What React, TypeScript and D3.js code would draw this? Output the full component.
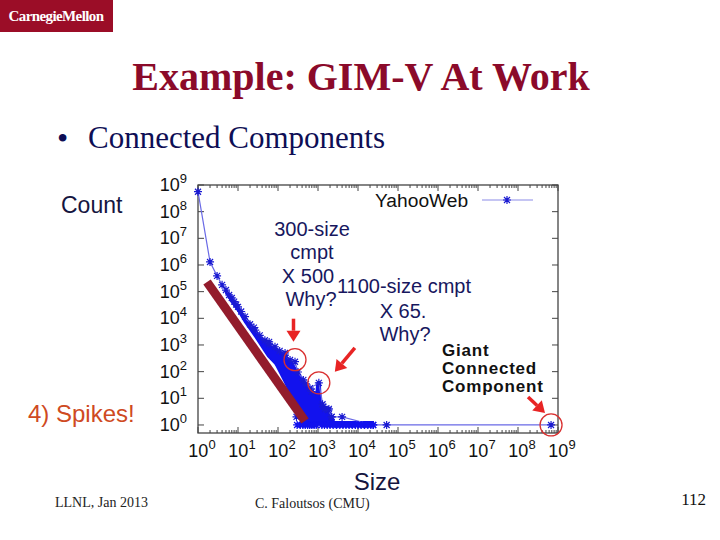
import React, { useEffect, useRef } from 'react'
import * as d3 from 'd3'

// YahooWeb: connected component size vs count (linespoints series)
const chainSize = [1, 2, 3, 4, 5, 6, 7, 8, 9, 10, 12, 15, 20, 27, 35, 47, 60, 84, 110, 150, 200, 266, 316, 430, 630, 1050, 1350, 1820, 2180, 4000, 24000, 52000, 670000000]
const chainCount = [5.6e8, 1.3e6, 3.9e5, 1.8e5, 1.15e5, 7.5e4, 5.8e4, 4.2e4, 3.3e4, 2.7e4, 1.8e4, 1.15e4, 6e3, 3.6e3, 2.3e3, 1.5e3, 1.1e3, 860, 600, 420, 275, 236, 97, 49, 24, 38, 4.9, 3.6, 2, 2, 1, 1, 1]

// dense scatter region, read as upper / lower envelope
const bandSize = [5, 7, 10, 15, 27, 47, 57, 84, 93, 150, 200, 316, 390, 430, 473, 630, 900, 950, 1120, 1180, 1350, 1820, 2180, 2600, 24000]
const bandUpper = [1.15e5, 5.8e4, 2.7e4, 1.15e4, 3.6e3, 1.5e3, 1.2e3, 860, 760, 420, 275, 97, 62, 49, 40, 24, 14, 38, 38, 8, 4.9, 3.6, 2, 1.3, 1.3]
const bandLower = [8.9e4, 4.0e4, 1.9e4, 7e3, 2e3, 560, 365, 200, 154, 38, 15, 3.2, 1.8, 1.3, 1, 1, 1, 1, 1, 1, 1, 1, 1, 1, 1]

// runs of single components (count = 1)
const onesSize = [300, 360, 420, 480, 550, 620, 700, 800, 900, 1250, 1450, 1700, 2000, 2400, 2900, 3500, 4200, 5000, 6000, 7200, 8600, 10000, 12000, 14500, 17500, 21000, 24000]
// loose points near the edge of the cloud
const extraSize = [290, 500, 700, 1300, 1500, 1870, 2200, 150, 60, 25]
const extraCount = [2, 35, 18, 6, 4, 4, 2, 500, 1.3e3, 4.5e3]

// slope guide (the thick maroon line)
const guideSize = [1.68, 473]
const guideCount = [2.3e5, 1.41]

// highlighted points: 300-size spike, 1100-size spike, giant component
const spikeSize = [266, 1050, 670000000]
const spikeCount = [236, 38, 1]

const tickExps = [0, 1, 2, 3, 4, 5, 6, 7, 8, 9]

const App = () => {
  const svgRef = useRef<SVGSVGElement>(null)

  useEffect(() => {
    const svg = d3.select(svgRef.current)
    svg.selectAll('*').remove()

    const left = 198
    const right = 558
    const top = 185
    const bottom = 433

    const x = d3.scaleLog().domain([1, 1e9]).range([left, right])
    const y = d3.scaleLog().domain([0.5, 1e9]).range([bottom, top])

    const sans = 'Liberation Sans, Arial, sans-serif'
    const serif = 'Liberation Serif, Times New Roman, serif'

    // slide header
    svg.append('rect').attr('x', 0).attr('y', 0).attr('width', 113).attr('height', 32).attr('fill', '#9b0d27')
    svg.append('text').attr('x', 56).attr('y', 21).attr('text-anchor', 'middle')
      .attr('font-family', serif).attr('font-size', 15).attr('font-weight', 'bold')
      .attr('letter-spacing', -0.6).attr('fill', '#fff').text('CarnegieMellon')

    svg.append('text').attr('x', 361).attr('y', 90).attr('text-anchor', 'middle')
      .attr('font-family', serif).attr('font-size', 40).attr('font-weight', 'bold')
      .attr('fill', '#8b0a2a').text('Example: GIM-V At Work')

    svg.append('text').attr('x', 57).attr('y', 149).attr('font-family', serif).attr('font-size', 32)
      .attr('fill', '#0e0e55').text('•')
    svg.append('text').attr('x', 88).attr('y', 148).attr('font-family', serif).attr('font-size', 31)
      .attr('fill', '#0e0e55').text('Connected Components')

    svg.append('text').attr('x', 61).attr('y', 213).attr('font-family', sans).attr('font-size', 23)
      .attr('fill', '#15153f').text('Count')
    svg.append('text').attr('x', 28).attr('y', 422).attr('font-family', sans).attr('font-size', 24)
      .attr('fill', '#cf4a22').text('4) Spikes!')
    svg.append('text').attr('x', 377).attr('y', 490).attr('text-anchor', 'middle').attr('font-family', sans)
      .attr('font-size', 24).attr('fill', '#15153f').text('Size')

    svg.append('text').attr('x', 55).attr('y', 507).attr('font-family', serif).attr('font-size', 14)
      .attr('fill', '#222').text('LLNL, Jan 2013')
    svg.append('text').attr('x', 255).attr('y', 508).attr('font-family', serif).attr('font-size', 14)
      .attr('fill', '#222').text('C. Faloutsos (CMU)')
    svg.append('text').attr('x', 706).attr('y', 505).attr('text-anchor', 'end').attr('font-family', serif)
      .attr('font-size', 17).attr('fill', '#111').text('112')

    // plot frame and ticks
    const g = svg.append('g')
    g.append('rect').attr('x', left).attr('y', top).attr('width', right - left).attr('height', bottom - top)
      .attr('fill', '#fff').attr('stroke', '#444').attr('stroke-width', 1.3)

    const minor: number[] = []
    tickExps.slice(0, 9).forEach(e => d3.range(2, 10).forEach(m => minor.push(m * Math.pow(10, e))))

    const ticks = g.append('g').attr('stroke', '#444').attr('stroke-width', 1)
    tickExps.forEach(e => {
      const v = Math.pow(10, e)
      ticks.append('line').attr('x1', x(v)).attr('x2', x(v)).attr('y1', bottom).attr('y2', bottom - 6)
      ticks.append('line').attr('x1', x(v)).attr('x2', x(v)).attr('y1', top).attr('y2', top + 6)
      ticks.append('line').attr('x1', left).attr('x2', left + 6).attr('y1', y(v)).attr('y2', y(v))
      ticks.append('line').attr('x1', right).attr('x2', right - 6).attr('y1', y(v)).attr('y2', y(v))
    })
    minor.forEach(v => {
      ticks.append('line').attr('x1', x(v)).attr('x2', x(v)).attr('y1', bottom).attr('y2', bottom - 3)
      ticks.append('line').attr('x1', x(v)).attr('x2', x(v)).attr('y1', top).attr('y2', top + 3)
    })

    tickExps.forEach(e => {
      const v = Math.pow(10, e)
      const ty = g.append('text').attr('x', 187).attr('y', y(v) + 6).attr('text-anchor', 'end')
        .attr('font-family', sans).attr('font-size', 18).attr('fill', '#111')
      ty.append('tspan').text('10')
      ty.append('tspan').attr('dy', -8).attr('font-size', 13).text(String(e))

      const tx = g.append('text').attr('x', x(v) + 4).attr('y', 457).attr('text-anchor', 'middle')
        .attr('font-family', sans).attr('font-size', 18).attr('fill', '#111')
      tx.append('tspan').text('10')
      tx.append('tspan').attr('dy', -8).attr('font-size', 13).text(String(e))
    })

    const star = 'M-4,0H4M0,-4V4M-3,-3L3,3M-3,3L3,-3'
    const blue = '#1212ee'

    // dense cloud
    const band = d3.area<number>()
      .x(i => x(bandSize[i]))
      .y0(i => y(bandLower[i]))
      .y1(i => y(bandUpper[i]))
    g.append('path').attr('d', band(d3.range(bandSize.length)))
      .attr('fill', blue).attr('stroke', blue).attr('stroke-width', 1.8).attr('stroke-linejoin', 'round')

    // connecting line
    const line = d3.line<number>().x(i => x(chainSize[i])).y(i => y(chainCount[i]))
    g.append('path').attr('d', line(d3.range(chainSize.length)))
      .attr('fill', 'none').attr('stroke', '#6a6ae6').attr('stroke-width', 1.2)

    const markers = g.append('g').attr('stroke', '#1a1ad2').attr('stroke-width', 1.2).attr('fill', 'none')
    chainSize.forEach((s, i) => {
      markers.append('path').attr('d', star).attr('transform', `translate(${x(s)},${y(chainCount[i])})`)
    })
    onesSize.forEach(s => {
      markers.append('path').attr('d', star).attr('stroke', blue).attr('transform', `translate(${x(s)},${y(1)})`)
    })
    extraSize.forEach((s, i) => {
      markers.append('path').attr('d', star).attr('transform', `translate(${x(s)},${y(extraCount[i])})`)
    })

    // slope guide
    g.append('line')
      .attr('x1', x(guideSize[0])).attr('y1', y(guideCount[0]))
      .attr('x2', x(guideSize[1])).attr('y2', y(guideCount[1]))
      .attr('stroke', '#931c2c').attr('stroke-width', 9)

    // legend
    g.append('text').attr('x', 375).attr('y', 207).attr('font-family', sans).attr('font-size', 19.2)
      .attr('fill', '#111').text('YahooWeb')
    g.append('line').attr('x1', 482).attr('x2', 533).attr('y1', 200).attr('y2', 200)
      .attr('stroke', '#8c8ce8').attr('stroke-width', 1.2)
    g.append('path').attr('d', star).attr('transform', 'translate(507,200)')
      .attr('stroke', '#1a1ad2').attr('stroke-width', 1.2)

    // annotations
    const navy = '#17175e'
    const note = (tx: number, ty: number, s: string, anchor = 'middle', bold = false) =>
      g.append('text').attr('x', tx).attr('y', ty).attr('text-anchor', anchor).attr('font-family', sans)
        .attr('font-size', bold ? 17 : 20).attr('font-weight', bold ? 'bold' : 'normal')
        .attr('letter-spacing', bold ? 0.8 : 0)
        .attr('fill', bold ? '#111' : navy).text(s)
    note(312, 236, '300-size')
    note(312, 259, 'cmpt')
    note(308, 283, 'X 500')
    note(311, 306, 'Why?')
    note(404, 293, '1100-size cmpt')
    note(403, 318, 'X 65.')
    note(405, 341, 'Why?')
    note(442, 356, 'Giant', 'start', true)
    note(442, 374, 'Connected', 'start', true)
    note(442, 392, 'Component', 'start', true)

    const red = '#e82424'
    spikeSize.forEach((s, i) => {
      g.append('circle').attr('cx', x(s)).attr('cy', y(spikeCount[i]) - (i === 0 ? 2 : 0)).attr('r', 11)
        .attr('fill', 'none').attr('stroke', '#d93030').attr('stroke-width', 1.3)
    })

    const arrow = (x1: number, y1: number, x2: number, y2: number) => {
      const a = Math.atan2(y2 - y1, x2 - x1)
      const hl = 11
      const hw = 7
      const bx = x2 - hl * Math.cos(a)
      const by = y2 - hl * Math.sin(a)
      g.append('line').attr('x1', x1).attr('y1', y1).attr('x2', bx).attr('y2', by)
        .attr('stroke', red).attr('stroke-width', 3.5)
      g.append('path')
        .attr('d', `M${x2},${y2}L${bx + hw * Math.sin(a)},${by - hw * Math.cos(a)}L${bx - hw * Math.sin(a)},${by + hw * Math.cos(a)}Z`)
        .attr('fill', red)
    }
    const c1x = x(spikeSize[0]), c1y = y(spikeCount[0])
    const c2x = x(spikeSize[1]), c2y = y(spikeCount[1])
    const c3x = x(spikeSize[2]), c3y = y(spikeCount[2])
    arrow(c1x - 1.5, c1y - 43, c1x - 1.5, c1y - 20)
    arrow(c2x + 36, c2y - 35, c2x + 16, c2y - 11)
    arrow(c3x - 23, c3y - 28, c3x - 6, c3y - 12)
  }, [])

  return (
    <svg ref={svgRef} width={720} height={540}
      style={{ position: 'absolute', left: 0, top: 0, background: '#fff' }} />
  )
}

export default App
